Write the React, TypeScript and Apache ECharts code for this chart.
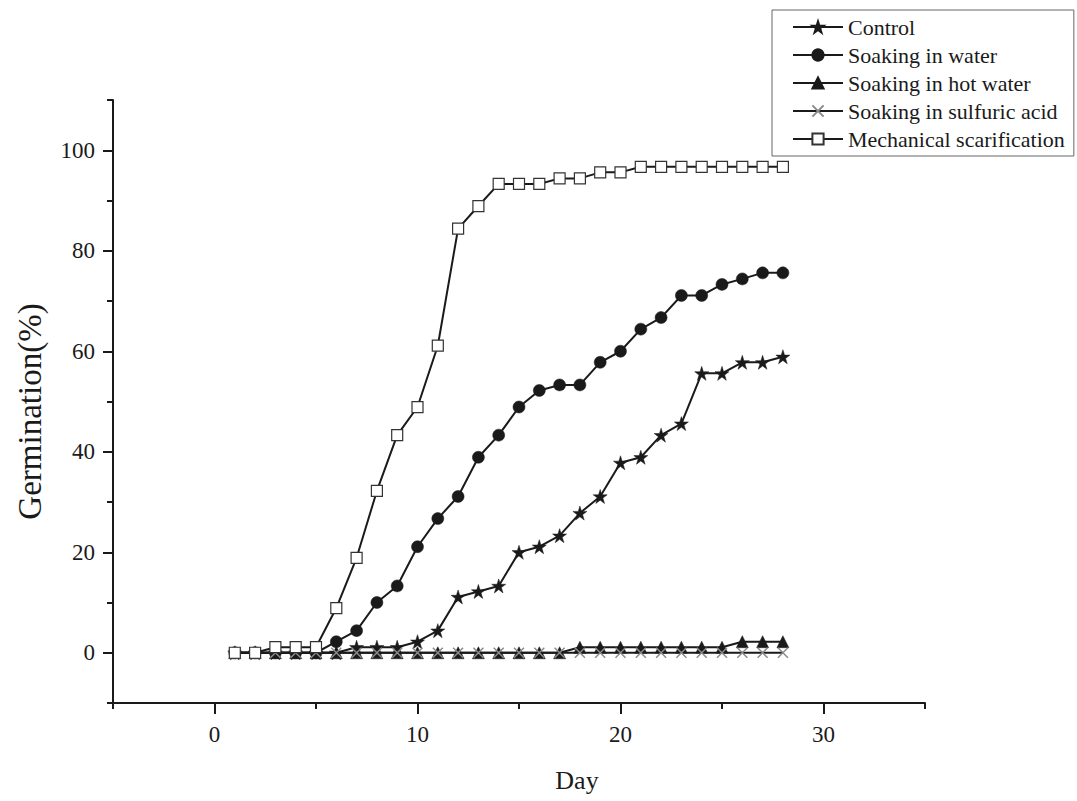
import React, { useEffect, useRef } from 'react';
import * as echarts from 'echarts';

const FONT = 'Liberation Serif';

const days = [1, 2, 3, 4, 5, 6, 7, 8, 9, 10, 11, 12, 13, 14, 15, 16, 17, 18, 19, 20, 21, 22, 23, 24, 25, 26, 27, 28];

const control = [0, 0, 0, 0, 0, 0, 1.1, 1.1, 1.1, 2.2, 4.4, 11.1, 12.2, 13.3, 20, 21.1, 23.3, 27.8, 31.1, 37.8, 38.9, 43.3, 45.6, 55.6, 55.6, 57.8, 57.8, 58.9];
const soakingWater = [0, 0, 0, 0, 0, 2.2, 4.4, 10, 13.3, 21.1, 26.7, 31.1, 38.9, 43.3, 48.9, 52.2, 53.3, 53.3, 57.8, 60, 64.4, 66.7, 71.1, 71.1, 73.3, 74.4, 75.6, 75.6];
const soakingHotWater = [0, 0, 0, 0, 0, 0, 0, 0, 0, 0, 0, 0, 0, 0, 0, 0, 0, 1.1, 1.1, 1.1, 1.1, 1.1, 1.1, 1.1, 1.1, 2.2, 2.2, 2.2];
const soakingSulfuric = [0, 0, 0, 0, 0, 0, 0, 0, 0, 0, 0, 0, 0, 0, 0, 0, 0, 0, 0, 0, 0, 0, 0, 0, 0, 0, 0, 0];
const mechanical = [0, 0, 1.1, 1.1, 1.1, 8.9, 18.9, 32.2, 43.3, 48.9, 61.1, 84.4, 88.9, 93.3, 93.3, 93.3, 94.4, 94.4, 95.6, 95.6, 96.7, 96.7, 96.7, 96.7, 96.7, 96.7, 96.7, 96.7];

const seriesNames = ['Control', 'Soaking in water', 'Soaking in hot water', 'Soaking in sulfuric acid', 'Mechanical scarification'];

const xMajorTicks = [0, 10, 20, 30];
const yMajorTicks = [0, 20, 40, 60, 80, 100];

const STAR = 'path://M50,0 L61.2,34.5 L97.6,34.5 L68.2,55.9 L79.4,90.5 L50,69.1 L20.6,90.5 L31.8,55.9 L2.4,34.5 L38.8,34.5 Z';
const CROSS = 'path://M0,0 L10,10 M10,0 L0,10';

const INK = '#1a1a1a';

function pairs(vals: number[]) {
  return days.map((d, i) => [d, vals[i]]);
}

export default function App() {
  const ref = useRef<HTMLDivElement>(null);

  useEffect(() => {
    const chart = echarts.init(ref.current!, null, { renderer: 'svg' });
    const axisLine = { show: true, onZero: false, lineStyle: { color: INK, width: 2 } };
    const lineStyle = { color: INK, width: 2 };
    const option = {
      animation: false,
      backgroundColor: '#ffffff',
      grid: { left: 113, top: 100, right: 152, bottom: 98, containLabel: false },
      legend: {
        orient: 'vertical',
        left: 772,
        top: 10,
        borderColor: '#666',
        borderWidth: 1,
        padding: [6, 9, 6, 20],
        itemWidth: 50,
        itemHeight: 14,
        itemGap: 6,
        selectedMode: false,
        textStyle: { fontFamily: FONT, fontSize: 22, color: INK, lineHeight: 22 },
        data: seriesNames,
      },
      xAxis: [
        {
          type: 'value',
          min: -5,
          max: 35,
          interval: 5,
          axisLine,
          axisTick: { show: true, inside: false, length: 6, lineStyle: { color: INK, width: 2 } },
          axisLabel: {
            formatter: (v: number) => (v % 10 === 0 ? String(v) : ''),
            fontFamily: FONT,
            fontSize: 23,
            color: INK,
            margin: 20,
          },
          splitLine: { show: false },
          name: 'Day',
          nameLocation: 'middle',
          nameGap: 64,
          nameTextStyle: { fontFamily: FONT, fontSize: 26, color: INK, padding: [0, 0, 0, 116] },
        },
        {
          type: 'value',
          min: -5,
          max: 35,
          position: 'bottom',
          axisLine: { show: false, onZero: false },
          axisTick: { show: true, length: 11, customValues: xMajorTicks, lineStyle: { color: INK, width: 2 } },
          axisLabel: { show: false },
          splitLine: { show: false },
        },
      ],
      yAxis: [
        {
          type: 'value',
          min: -10,
          max: 110,
          interval: 10,
          position: 'left',
          axisLine,
          axisTick: { show: true, inside: false, length: 6, lineStyle: { color: INK, width: 2 } },
          axisLabel: {
            formatter: (v: number) => (v % 20 === 0 && v >= 0 && v <= 100 ? String(v) : ''),
            fontFamily: FONT,
            fontSize: 23,
            color: INK,
            margin: 18,
          },
          splitLine: { show: false },
          name: 'Germination(%)',
          nameLocation: 'middle',
          nameGap: 67,
          nameTextStyle: { fontFamily: FONT, fontSize: 33, color: INK, padding: [0, 20, 0, 0] },
        },
        {
          type: 'value',
          min: -10,
          max: 110,
          position: 'left',
          axisLine: { show: false, onZero: false },
          axisTick: { show: true, length: 10, customValues: yMajorTicks, lineStyle: { color: INK, width: 2 } },
          axisLabel: { show: false },
          splitLine: { show: false },
        },
      ],
      series: [
        {
          name: seriesNames[0],
          type: 'line',
          data: pairs(control),
          symbol: STAR,
          symbolSize: 14,
          lineStyle,
          itemStyle: { color: INK, borderColor: INK, borderWidth: 0.5 },
        },
        {
          name: seriesNames[1],
          type: 'line',
          data: pairs(soakingWater),
          symbol: 'circle',
          symbolSize: 12,
          lineStyle,
          itemStyle: { color: INK, borderColor: INK, borderWidth: 0.5 },
        },
        {
          name: seriesNames[2],
          type: 'line',
          data: pairs(soakingHotWater),
          symbol: 'triangle',
          symbolSize: 12,
          lineStyle,
          itemStyle: { color: INK, borderColor: INK, borderWidth: 0.5 },
        },
        {
          name: seriesNames[3],
          type: 'line',
          data: pairs(soakingSulfuric),
          symbol: CROSS,
          symbolSize: 10,
          lineStyle,
          itemStyle: { color: INK, borderColor: '#8a8a8a', borderWidth: 1.5 },
        },
        {
          name: seriesNames[4],
          type: 'line',
          data: pairs(mechanical),
          symbol: 'rect',
          symbolSize: 11,
          lineStyle,
          itemStyle: { color: '#ffffff', borderColor: '#333', borderWidth: 1.2 },
        },
      ],
    };
    chart.setOption(option as any);
    return () => chart.dispose();
  }, []);

  return (
    <div
      ref={ref}
      style={{ position: 'absolute', left: 0, top: 0, width: 1077, height: 801, background: '#fff' }}
    />
  );
}
